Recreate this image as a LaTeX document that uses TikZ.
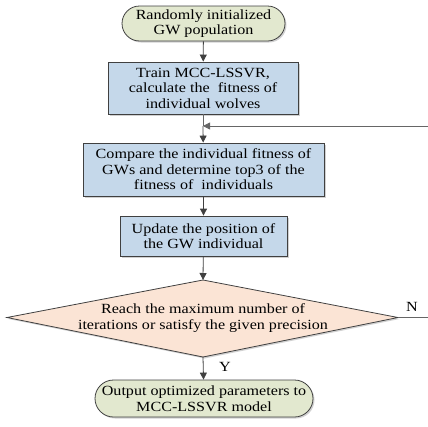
\documentclass[tikz,border=0pt]{standalone}
\usepackage{fontspec}
\setmainfont[FakeStretch=1.15]{Liberation Serif}
\usetikzlibrary{shapes.geometric,shapes.misc,shadows,arrows.meta}
\definecolor{termfill}{HTML}{E2E8CF}
\definecolor{boxfill}{HTML}{C5D8EA}
\definecolor{decfill}{HTML}{FBE4D5}
\definecolor{edge}{HTML}{404040}
\begin{document}
\begin{tikzpicture}[x=1pt,y=1pt,
  font=\fontsize{14}{15.5}\selectfont,
  base/.style={draw=edge, line width=0.8pt, align=center, inner sep=0pt,
     drop shadow={shadow xshift=1.5pt, shadow yshift=-1.5pt, fill=black!30, opacity=0.6}},
  term/.style={base, rounded rectangle, fill=termfill},
  procbox/.style={base, rectangle, fill=boxfill},
  conn/.style={draw=edge, line width=0.8pt, -{Triangle[length=7pt,width=7pt]}},
  plain/.style={draw=edge!80, line width=0.8pt}]
\useasboundingbox (0,0) rectangle (428,-426);
\node[term, minimum width=163pt, minimum height=35pt] (start) at (203.5,-23.5) {Randomly initialized\\GW population};
\node[procbox, minimum width=190pt, minimum height=52pt] (train) at (203,-88) {Train MCC-LSSVR,\\calculate the \ fitness of\\individual wolves};
\node[procbox, minimum width=241pt, minimum height=53pt] (cmp) at (203.5,-169.5) {Compare the individual fitness of\\GWs and determine top3 of the\\fitness of \ individuals};
\node[procbox, minimum width=167pt, minimum height=40pt] (upd) at (203.5,-236) {Update the position of\\the GW individual};
\path[draw=edge, line width=0.8pt, fill=decfill, drop shadow={shadow xshift=1.5pt, shadow yshift=-1.5pt, fill=black!30, opacity=0.6}]
  (203,-280) coordinate (dtop) -- (398,-317.5) coordinate (deast) -- (203,-357) coordinate (dbot) -- (7,-317.5) coordinate (dwest) -- cycle;
\node[align=center] (dtext) at (203,-318) {Reach the maximum number of\\iterations or satisfy the given precision};
\node[term, minimum width=218pt, minimum height=37pt] (end) at (204,-398.5) {Output optimized parameters to\\MCC-LSSVR model};
\coordinate (merge) at (203,-126);
\coordinate (rin) at (428,-126);
\coordinate (rout) at (428,-317.5);
\draw[conn] (start) -- (train);
\draw[plain] (train) -- (merge);
\draw[conn] (merge) -- (cmp);
\draw[conn] (cmp) -- (upd);
\draw[conn] (upd) -- (dtop);
\draw[conn] (dbot) -- (end);
\draw[plain] (deast) -- (rout);
\draw[plain, -{Triangle[length=7pt,width=7pt]}] (rin) -- (merge);
\node (N) at (412,-307) {N};
\node (Y) at (225,-367) {Y};
\end{tikzpicture}
\end{document}
